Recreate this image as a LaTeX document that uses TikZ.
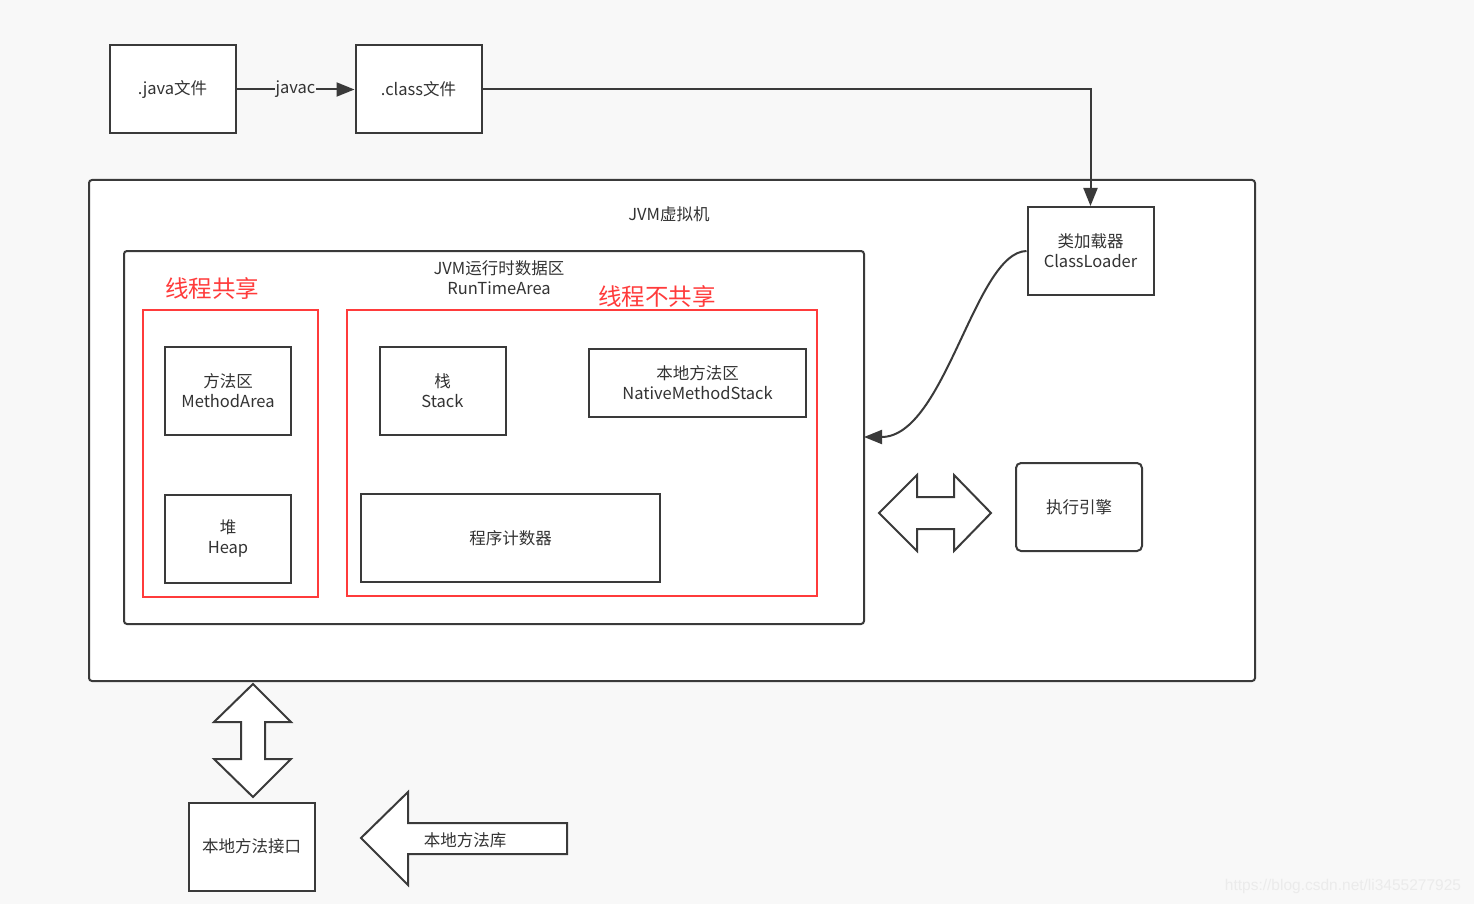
\documentclass[tikz,border=0pt]{standalone}
\usepackage{fontspec}
\setmainfont{Noto Sans CJK SC}
\newfontfamily\marcafont{Liberation Sans}
\usetikzlibrary{arrows.meta}
\definecolor{fundo}{HTML}{F8F8F8}
\definecolor{borda}{HTML}{3A3A3A}
\definecolor{texto}{HTML}{333333}
\definecolor{vermelho}{HTML}{FF3B3B}
\tikzset{
  caixa/.style={draw=borda, line width=2pt, fill=white, text=texto, align=center,
    font=\fontsize{16.5}{20}\selectfont, inner sep=0pt},
  area/.style={draw=borda, line width=2pt, fill=white, rounded corners=3pt},
  grupo/.style={draw=vermelho, line width=2pt},
  rotulo/.style={text=vermelho, font=\fontsize{23.5}{26}\selectfont},
  linha/.style={draw=borda, line width=2pt},
  seta/.style={-{Triangle[length=18pt,width=14pt]}},
  bloco/.style={draw=borda, line width=2pt, fill=white, line join=miter},
}
\begin{document}
\begin{tikzpicture}[x=1pt,y=-1pt] %Inicio do desenho
	\fill[fundo] (0,0) rectangle (1474,904); %Fundo
	\useasboundingbox (0,0) rectangle (1474,904);
		%Arquivos
	\node[caixa, minimum width=126, minimum height=88] (java) at (172.5,89.5) {.java文件};
	\node[caixa, minimum width=126, minimum height=88] (class) at (418.5,89.5) {.class文件};
		%Maquina virtual
	\draw[area] (89,180) rectangle (1255,681);
	\node[text=texto, font=\fontsize{16.5}{20}\selectfont] (jvm) at (669,214) {JVM虚拟机};
	\node[caixa, minimum width=126, minimum height=88] (loader) at (1090.5,251) {类加载器\\ClassLoader};
		%Area de dados
	\draw[area] (124,251) rectangle (864,624);
	\coordinate (entrada) at (864,437);
	\node[text=texto, align=center, font=\fontsize{16.5}{20}\selectfont] (runtime) at (499,278) {JVM运行时数据区\\RunTimeArea};
	\draw[grupo] (143,310) rectangle (318,597); %Compartilhado
	\draw[grupo] (347,310) rectangle (817,596); %Nao compartilhado
	\node[rotulo] (shared) at (212,289) {线程共享};
	\node[rotulo] (private) at (657,297) {线程不共享};
	\node[caixa, minimum width=126, minimum height=88] (method) at (228,390.5) {方法区\\MethodArea};
	\node[caixa, minimum width=126, minimum height=88] (heap) at (228,538.5) {堆\\Heap};
	\node[caixa, minimum width=126, minimum height=88] (stack) at (442.5,390.5) {栈\\Stack};
	\node[caixa, minimum width=217, minimum height=68] (native) at (697.5,383) {本地方法区\\NativeMethodStack};
	\node[caixa, minimum width=299, minimum height=88] (pc) at (510.5,538) {程序计数器};
		%Motor de execucao
	\node[caixa, rounded corners=5pt, minimum width=126, minimum height=88] (engine) at (1079,507) {执行引擎};
	\draw[bloco] (879,513) -- (917,475) -- (917,497) -- (954,497) -- (954,475) -- (991,513)
		-- (954,551) -- (954,529) -- (917,529) -- (917,551) -- cycle;
		%Interface nativa
	\node[caixa, minimum width=126, minimum height=88] (jni) at (251.5,846.5) {本地方法接口};
	\draw[bloco] (253,684) -- (291,722) -- (265,722) -- (265,759) -- (291,759) -- (253,797)
		-- (214,759) -- (241,759) -- (241,722) -- (214,722) -- cycle;
	\draw[bloco] (361,838) -- (408,792) -- (408,823) -- (567,823) -- (567,854) -- (408,854)
		-- (408,885) -- cycle;
	\node[text=texto, font=\fontsize{16.5}{20}\selectfont] (lib) at (465,840) {本地方法库};
		%Ligacoes
	\draw[linha, seta] (java) -- node[fill=fundo, text=texto, inner sep=1pt, font=\fontsize{16.5}{20}\selectfont] (javac) {javac} (class);
	\draw[linha, seta] (class.east) -| (loader.north);
	\draw[linha, seta] (loader.west) .. controls (975,252) and (945,437) .. (entrada);
	\node[text=black!8, font=\marcafont\fontsize{15.5}{18}\selectfont] (marca) at (1343,886) {https://blog.csdn.net/li3455277925};
\end{tikzpicture}
\end{document}
